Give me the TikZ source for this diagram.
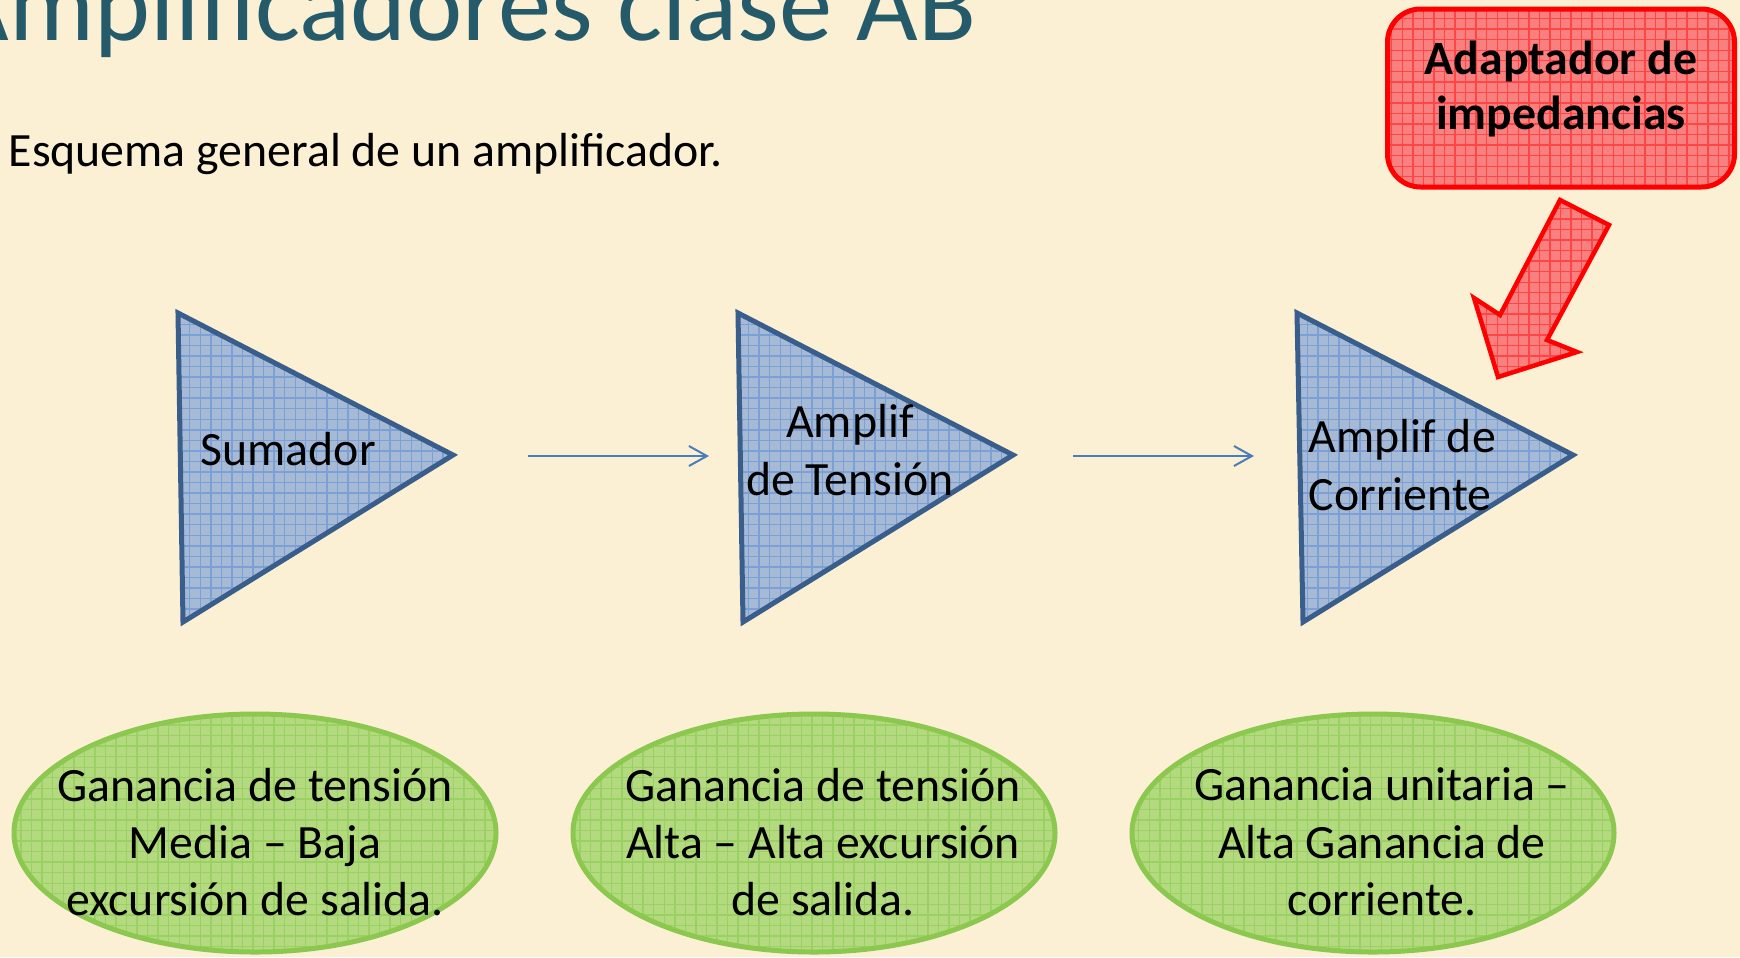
\documentclass[tikz,border=0pt]{standalone}
\usepackage{fontspec}
\setmainfont{Carlito}
\usepackage{tikz}
\usetikzlibrary{positioning,arrows.meta,shapes.geometric,patterns}
\usepackage{xcolor}
\definecolor{paper}{RGB}{251,240,212}
\definecolor{titleteal}{RGB}{36,90,106}
\definecolor{ampfill}{RGB}{166,186,214}
\definecolor{ampgrid}{RGB}{122,160,214}
\definecolor{ampedge}{RGB}{58,94,140}
\definecolor{flowblue}{RGB}{74,126,187}
\definecolor{gainfill}{RGB}{180,218,128}
\definecolor{gaingrid}{RGB}{155,208,100}
\definecolor{gainedge}{RGB}{140,200,80}
\definecolor{adaptfill}{RGB}{250,128,128}
\definecolor{adaptgrid}{RGB}{255,70,70}
\definecolor{adaptedge}{RGB}{255,0,0}

\begin{document}
\begin{tikzpicture}[x=0.1mm, y=-0.1mm,
      amp/.style={preaction={fill=ampfill}, pattern=grid, pattern color=ampgrid,
         draw=ampedge, line width=0.5mm},
      amptext/.style={font=\fontsize{13.6}{16.3}\selectfont, inner sep=0pt},
      adapttext/.style={font=\fontsize{13.6}{15.6}\selectfont\bfseries, inner sep=0pt},
      flow/.style={draw=flowblue, line width=0.2mm, -{Straight Barb[length=1.8mm, width=2mm]}},
      gain/.style={ellipse, preaction={fill=gainfill}, pattern=grid, pattern color=gaingrid,
         draw=gainedge, line width=0.5mm,
         minimum width=48.2mm, minimum height=23.8mm, inner sep=0pt, outer sep=0pt},
      adapt/.style={preaction={fill=adaptfill}, pattern=grid, pattern color=adaptgrid,
         draw=adaptedge, line width=0.5mm},
   ]
      \useasboundingbox (0,0) rectangle (1740,957);
      \clip (0,0) rectangle (1740,957);
      \fill[paper] (0,0) rectangle (1740,957);

      \node[font=\fontsize{30.3}{36}\selectfont, text=titleteal, inner sep=0pt, anchor=base east] (title) at (977,40) {Amplificadores clase AB};
      \node[amptext, anchor=base west] (intro) at (8,166) {Esquema general de un amplificador.};

      % etapas
      \draw[amp] (178,313) coordinate (sumtop) -- (453,455) coordinate (sumtip) -- (183,622) -- cycle;
      \draw[amp] (738,313) coordinate (vamptop) -- (1013,455) coordinate (vamptip) -- (743,622) -- cycle;
      \draw[amp] (1297,313) coordinate (iamptop) -- (1573,455) coordinate (iamptip) -- (1303,622) -- cycle;

      \node[amptext, anchor=base west] (sumlbl) at (200,465) {Sumador};
      \node[amptext, align=center] (vamplbl) at (850,450) {Amplif\\de Tensión};
      \node[amptext, align=left, anchor=west] (iamplbl) at (1308,465) {Amplif de\\Corriente};

      \coordinate (sumout) at (528,456);
      \coordinate (vampin) at (709,456);
      \coordinate (vampout) at (1073,456);
      \coordinate (iampin) at (1254,456);
      \draw[flow] (sumout) -- (vampin);
      \draw[flow] (vampout) -- (iampin);

      % ganancias
      \node[gain] (gsum) at (255,833) {};
      \node[gain, right=7.7mm of gsum] (gvamp) {};
      \node[gain, right=7.7mm of gvamp] (giamp) {};
      \node[amptext, align=center] (gsumtxt) at ([yshift=-0.9mm]gsum.center) {Ganancia de tensión\\Media – Baja\\excursión de salida.};
      \node[amptext, align=center] (gvamptxt) at ([xshift=0.9mm, yshift=-0.9mm]gvamp.center) {Ganancia de tensión\\Alta – Alta excursión\\de salida.};
      \node[amptext, align=center] (giamptxt) at ([xshift=0.9mm, yshift=-0.9mm]giamp.center) {Ganancia unitaria –\\Alta Ganancia de\\corriente.};

      % adaptador
      \node[adapt, rounded corners=3.3mm, minimum width=34.7mm, minimum height=17.8mm, inner sep=0pt] (adapter) at (1561,98) {};
      \node[adapttext, align=center] (adaptlbl) at ([yshift=0.9mm]adapter.center) {Adaptador de\\impedancias};
      \draw[adapt, line width=0.45mm] (1560,200) -- (1609,225) -- (1547,340) -- (1577,352) -- (1498,377) -- (1474,298) -- (1500,315) -- cycle;
   \end{tikzpicture}
\end{document}
